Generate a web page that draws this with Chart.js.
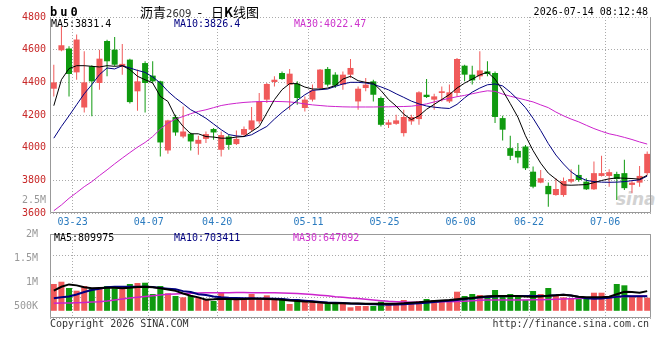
<!DOCTYPE html>
<html>
<head>
<meta charset="utf-8">
<title>沥青2609 日K线图</title>
<script src="https://cdn.jsdelivr.net/npm/chart.js@4.4.1/dist/chart.umd.min.js"></script>
<style>
  body { margin: 0; background: #fff; }
  #wrap { position: relative; width: 660px; height: 360px; overflow: hidden; font-family: "DejaVu Sans Mono", monospace; font-size: 10px; color: #000; }
  canvas { position: absolute; left: 0; }
  #kline { top: 0; }
  #vol { top: 222px; }
  .t { position: absolute; white-space: nowrap; line-height: 10px; }
</style>
</head>
<body>
<div id="wrap">
  <div class="t" style="left:616px;top:191px;font:italic bold 17px 'DejaVu Sans',sans-serif;line-height:17px;color:#d2d2d2;">sina</div>
  <canvas id="kline" width="660" height="232"></canvas>
  <canvas id="vol" width="660" height="98"></canvas>

  <div class="t" style="left:50px;top:6px;font:bold 12px 'DejaVu Sans Mono',monospace;line-height:12px;letter-spacing:3px;">bu0</div>
  <div class="t" style="left:140px;top:4px;font:13px 'Noto Sans CJK SC',sans-serif;line-height:16px;">沥青<span style="font:10px 'DejaVu Sans',sans-serif;color:#333;">2609</span><span style="margin:0 9px 0 6px;">-</span>日<b>K</b>线图</div>
  <div class="t" style="right:12px;top:7px;">2026-07-14 08:12:48</div>

  <div class="t" style="left:51px;top:19px;">MA5:3831.4</div>
  <div class="t" style="left:174px;top:19px;color:#000080;">MA10:3826.4</div>
  <div class="t" style="left:294px;top:19px;color:#cc33cc;">MA30:4022.47</div>

  <div class="t" style="right:614px;top:195px;color:#999;">2.5M</div>

  <div class="t" style="left:54px;top:233px;">MA5:809975</div>
  <div class="t" style="left:174px;top:233px;color:#000080;">MA10:703411</div>
  <div class="t" style="left:293px;top:233px;color:#cc33cc;">MA30:647092</div>

  <div class="t" style="left:50px;top:319px;color:#333;">Copyright 2026 SINA.COM</div>
  <div class="t" style="right:11px;top:319px;color:#333;">http://finance.sina.com.cn</div>
</div>

<script>
// trading days shown, 03-18 .. 07-13
const dates = [
  '03-18','03-19','03-20','03-23','03-24','03-25','03-26','03-27','03-30','03-31',
  '04-01','04-02','04-03','04-07','04-08','04-09','04-10','04-13','04-14','04-15',
  '04-16','04-17','04-20','04-21','04-22','04-23','04-24','04-27','04-28','04-29',
  '04-30','05-06','05-07','05-08','05-11','05-12','05-13','05-14','05-15','05-18',
  '05-19','05-20','05-21','05-22','05-25','05-26','05-27','05-28','05-29','06-01',
  '06-02','06-03','06-04','06-05','06-08','06-09','06-10','06-11','06-12','06-15',
  '06-16','06-17','06-18','06-22','06-23','06-24','06-25','06-26','06-29','06-30',
  '07-01','07-02','07-03','07-06','07-07','07-08','07-09','07-10','07-13'
];
const shownDates = ['03-23', '04-07', '04-20', '05-11', '05-25', '06-08', '06-22', '07-06'];

const opens = [
  4361,4596,4607,4461,4246,4498,4396,4653,4600,4494,
  4539,4345,4518,4441,4406,3983,4188,4068,4085,4024,
  4054,4114,3987,4068,4022,4079,4110,4161,4294,4402,
  4457,4386,4392,4243,4294,4365,4482,4447,4386,4447,
  4283,4365,4406,4304,4140,4146,4089,4161,4175,4324,
  4294,4335,4283,4335,4502,4447,4437,4467,4457,4181,
  3997,3980,4007,3853,3786,3766,3710,3710,3792,3833,
  3792,3745,3827,3827,3839,3844,3772,3786,3844
];
const closes = [
  4400,4627,4451,4662,4400,4406,4545,4529,4508,4513,
  4279,4406,4396,4406,4032,4167,4093,4099,4038,4048,
  4083,4093,4077,4017,4054,4114,4167,4283,4390,4416,
  4420,4453,4304,4294,4351,4478,4386,4380,4447,4488,
  4361,4386,4324,4140,4155,4167,4188,4188,4339,4310,
  4314,4345,4339,4543,4447,4412,4473,4451,4188,4110,
  3950,3940,3874,3761,3813,3715,3747,3796,3808,3802,
  3745,3844,3844,3850,3808,3752,3786,3827,3962
];
const highs = [
  4508,4743,4621,4693,4590,4505,4600,4660,4678,4635,
  4545,4478,4529,4529,4410,4171,4202,4252,4093,4073,
  4099,4120,4099,4079,4105,4130,4249,4335,4396,4437,
  4467,4482,4406,4314,4386,4482,4494,4461,4467,4543,
  4375,4427,4416,4314,4171,4202,4232,4202,4345,4420,
  4330,4375,4386,4549,4508,4502,4590,4529,4467,4195,
  4073,4028,4017,3884,3864,3786,3813,3817,3868,3895,
  3813,3915,3950,3868,3853,3926,3799,3888,3976
];
const lows = [
  4314,4590,4314,4416,4216,4192,4355,4437,4498,4447,
  4270,4226,4216,4395,3946,3962,4073,4058,3983,3956,
  4028,4048,3946,3987,4017,4068,4099,4146,4273,4375,
  4416,4232,4263,4222,4283,4355,4375,4365,4355,4427,
  4232,4345,4283,4130,4120,4140,4068,4140,4140,4304,
  4232,4283,4273,4314,4406,4386,4416,4437,4151,4044,
  3925,3905,3864,3752,3782,3639,3706,3700,3782,3792,
  3741,3741,3823,3761,3680,3741,3721,3761,3833
];
const ma5 = [
  4257,4416,4484,4502,4502,4498,4494,4502,4498,4502,
  4478,4437,4416,4396,4314,4283,4188,4130,4085,4085,
  4068,4065,4058,4058,4065,4068,4099,4130,4212,4294,
  4355,4392,4392,4371,4359,4359,4365,4380,4420,4437,
  4410,4400,4395,4350,4295,4255,4205,4172,4195,4235,
  4265,4295,4325,4365,4395,4420,4445,4462,4420,4350,
  4270,4187,4073,3982,3905,3844,3807,3772,3770,3772,
  3774,3786,3799,3809,3815,3813,3811,3807,3831
];
const ma10 = [
  4058,4130,4195,4263,4330,4386,4447,4488,4482,4502,
  4488,4473,4461,4433,4396,4345,4304,4269,4232,4208,
  4180,4145,4110,4080,4072,4068,4079,4105,4130,4175,
  4216,4252,4289,4324,4351,4355,4359,4375,4390,4400,
  4400,4396,4388,4372,4354,4330,4308,4285,4268,4255,
  4248,4243,4240,4265,4305,4340,4365,4385,4390,4378,
  4340,4295,4245,4180,4105,4025,3955,3900,3852,3820,
  3800,3792,3789,3788,3789,3792,3798,3803,3826
];
const ma30 = [
  3614,3649,3690,3725,3761,3792,3829,3864,3901,3936,
  3970,4003,4032,4068,4114,4151,4175,4191,4208,4222,
  4232,4245,4258,4266,4272,4277,4280,4282,4283,4283,
  4282,4280,4275,4268,4262,4258,4254,4252,4250,4249,
  4249,4249,4249,4250,4250,4251,4252,4254,4260,4268,
  4280,4292,4302,4312,4320,4330,4340,4348,4345,4328,
  4315,4304,4292,4280,4262,4245,4218,4195,4175,4158,
  4137,4117,4100,4085,4075,4063,4050,4035,4022
];
const priceTicks = [3600, 3800, 4000, 4200, 4400, 4600, 4800];

// volume, in thousands of lots
const volumes = [
  958,1006,875,819,917,854,881,917,869,917,
  958,979,985,750,917,764,708,681,708,673,
  625,604,777,639,625,639,750,639,722,639,
  660,542,639,590,590,556,556,556,569,473,
  500,500,500,590,542,542,625,569,604,646,
  625,590,625,798,708,750,729,708,833,708,
  750,708,625,812,750,875,708,681,660,681,
  681,777,777,681,958,931,708,708,673
];
const volMa5 = [
  820,900,950,930,890,870,875,880,878,872,
  880,895,902,890,870,845,815,760,715,680,
  632,640,652,645,640,645,650,652,648,640,
  630,612,605,595,590,575,560,556,556,554,
  550,545,545,545,548,548,556,570,580,595,
  605,615,625,640,655,665,690,705,708,708,
  708,708,700,695,700,715,722,736,718,695,
  681,681,681,695,745,798,790,777,810
];
const volMa10 = [
  660,680,700,740,790,833,860,890,902,902,
  902,902,900,895,875,860,848,810,790,745,
  729,700,681,670,665,660,660,658,655,652,
  645,630,625,612,600,585,572,569,560,550,
  545,540,535,530,528,530,535,545,555,570,
  585,600,611,625,645,660,675,690,700,705,
  708,708,708,708,708,712,725,736,720,690,
  660,652,655,670,690,708,705,703,703
];
const volMa30 = [
  556,560,565,570,575,582,590,605,625,645,
  665,681,700,715,730,745,752,760,765,770,
  775,777,777,778,780,780,778,777,777,775,
  772,765,760,750,740,725,712,694,680,665,
  655,640,625,610,598,590,585,580,580,582,
  585,588,590,595,600,610,620,625,625,625,
  625,625,625,628,632,636,640,645,650,655,
  660,665,672,680,690,698,704,706,708
];
const volTicks = [500000, 1000000, 1500000, 2000000];
const VOL_BASE = 400000;

const RED = '#f05a5a';
const GREEN = '#0f9a0f';
const GRID = '#aaaaaa';
const dotted = [1, 2];

Chart.defaults.font.family = '"DejaVu Sans Mono", monospace';
Chart.defaults.font.size = 10;

const candleColor = i => closes[i] >= opens[i] ? RED : GREEN;
const dateGrid = ctx => (ctx.index < dates.length && shownDates.includes(dates[ctx.index])) ? GRID : 'rgba(0,0,0,0)';
const k = v => v * 1000;

// y axes: fixed width, and no extra room reserved for the end labels
const fixLeftAxis = s => { s.width = 50; s.paddingTop = 0; s.paddingBottom = 0; };

const frame = {
  id: 'frame',
  afterDraw(chart, args, opts) {
    const { ctx, chartArea: a } = chart;
    const l = Math.round(a.left) + 0.5, r = Math.round(a.right) - 0.5;
    const t = Math.round(a.top) + 0.5, b = Math.round(a.bottom) - 0.5;
    ctx.save();
    ctx.strokeStyle = '#999';
    ctx.lineWidth = 1;
    ctx.beginPath();
    ctx.moveTo(r, t); ctx.lineTo(r, b); ctx.lineTo(l, b); ctx.lineTo(l, t);
    if (opts.top) ctx.lineTo(r, t);
    ctx.stroke();
    ctx.restore();
  }
};

function maLine(data, color, width) {
  return { type: 'line', data: data, borderColor: color, borderWidth: width, pointRadius: 0, tension: 0, fill: false, order: 0 };
}

new Chart(document.getElementById('kline'), {
  type: 'bar',
  data: {
    labels: dates,
    datasets: [
      maLine(ma5, '#000000', 1),
      maLine(ma10, '#000080', 1),
      maLine(ma30, '#cc22cc', 1),
      {
        data: lows.map((l, i) => [l, highs[i]]),
        backgroundColor: ctx => candleColor(ctx.dataIndex),
        barThickness: 1, inflateAmount: 0, grouped: false, order: 2
      },
      {
        data: opens.map((o, i) => [o, closes[i]]),
        backgroundColor: ctx => candleColor(ctx.dataIndex),
        barThickness: 6, inflateAmount: 0, grouped: false, order: 1
      }
    ]
  },
  options: {
    responsive: false,
    animation: false,
    devicePixelRatio: 1,
    layout: { padding: { top: 17, right: 9, left: 0, bottom: 0 } },
    plugins: { legend: { display: false }, tooltip: { enabled: false }, frame: { top: false } },
    scales: {
      x: {
        offset: true,
        grid: { offset: true, color: dateGrid, drawTicks: false },
        border: { display: false, dash: dotted },
        ticks: {
          autoSkip: false, maxRotation: 0, padding: 3, labelOffset: -4, color: '#2b7bbf',
          callback: (v, i) => shownDates.includes(dates[i]) ? dates[i] : ''
        },
        afterFit: s => { s.height = 19; }
      },
      y: {
        min: priceTicks[0],
        max: priceTicks[priceTicks.length - 1],
        afterBuildTicks: s => { s.ticks = priceTicks.map(v => ({ value: v })); },
        ticks: { autoSkip: false, padding: 4, color: '#c82828', callback: v => String(v) },
        grid: { color: GRID, drawTicks: false },
        border: { display: false, dash: dotted },
        afterFit: fixLeftAxis
      }
    }
  },
  plugins: [frame]
});

new Chart(document.getElementById('vol'), {
  type: 'bar',
  data: {
    labels: dates,
    datasets: [
      maLine(volMa5.map(k), '#000000', 2),
      maLine(volMa10.map(k), '#000080', 2),
      maLine(volMa30.map(k), '#cc22cc', 1.5),
      {
        data: volumes.map(v => [VOL_BASE, k(v)]),
        backgroundColor: ctx => candleColor(ctx.dataIndex),
        barThickness: 6, inflateAmount: 0, order: 1
      }
    ]
  },
  options: {
    responsive: false,
    animation: false,
    devicePixelRatio: 1,
    layout: { padding: { top: 12, right: 9, left: 0, bottom: 2 } },
    plugins: { legend: { display: false }, tooltip: { enabled: false }, frame: { top: true } },
    scales: {
      x: {
        offset: true,
        grid: { offset: true, color: dateGrid, drawTicks: false },
        border: { display: false, dash: dotted },
        ticks: { display: false, autoSkip: false },
        afterFit: s => { s.height = 0; }
      },
      y: {
        min: 250000,
        max: 2000000,
        afterBuildTicks: s => { s.ticks = volTicks.map(v => ({ value: v })); },
        ticks: {
          autoSkip: false, padding: 4, color: '#999999',
          callback: v => v >= 1000000 ? (v / 1000000) + 'M' : (v / 1000) + 'K'
        },
        grid: { display: false },
        border: { display: false },
        afterFit: fixLeftAxis
      },
      q: {
        type: 'linear',
        position: 'left',
        min: 0,
        max: 4,
        ticks: { display: false, stepSize: 1 },
        grid: { color: GRID, drawTicks: false },
        border: { display: false, dash: dotted },
        afterFit: s => { s.width = 0; s.paddingTop = 0; s.paddingBottom = 0; }
      }
    }
  },
  plugins: [frame]
});
</script>
</body>
</html>
